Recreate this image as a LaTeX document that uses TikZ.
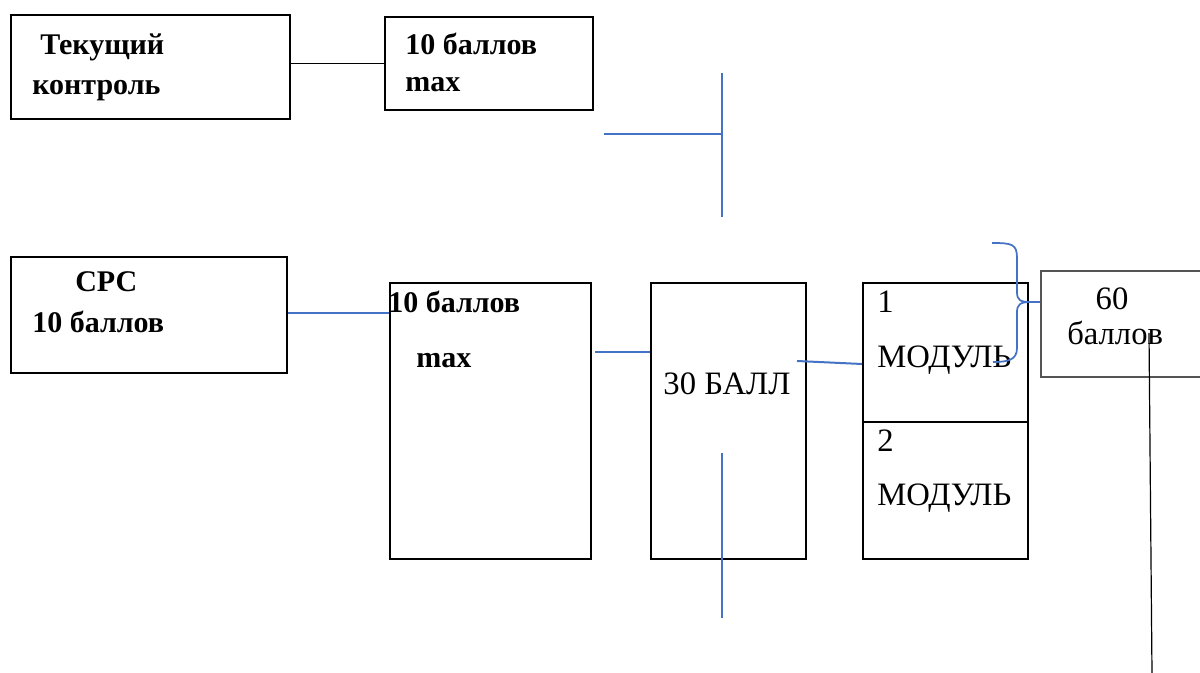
\documentclass[tikz,border=0pt]{standalone}
\usepackage{fontspec}
\setmainfont{Liberation Serif}
\usetikzlibrary{positioning}

\definecolor{lineblue}{RGB}{68,114,196}
\definecolor{boxgray}{RGB}{85,85,85}

\tikzset{
  box/.style={draw, line width=1.3pt, inner sep=0pt, anchor=north west},
  sz/.style 2 args={minimum width=#1*0.75pt, minimum height=#2*0.75pt},
  lbl/.style={anchor=base west, inner sep=0pt, font=\fontsize{24.5}{29}\selectfont},
  blbl/.style={lbl, font=\fontsize{22.5}{27}\selectfont\bfseries},
  blueline/.style={draw=lineblue, line width=1.5pt},
  blackline/.style={draw, line width=0.9pt}
}

\begin{document}
\begin{tikzpicture}[x=0.75pt, y=-0.75pt]
                \useasboundingbox (0,0) rectangle (1200,673);
                % top row
                \node[box, sz={279}{104}] (tek) at (10,14) {};
                \node[box, sz={208}{93}] (tekmax) at (384,16) {};
                \node[blbl] (tek1) at (40,55) {Текущий};
                \node[blbl] (tek2) at (32,95) {контроль};
                \node[blbl] (tekmax1) at (405,55) {10 баллов};
                \node[blbl] (tekmax2) at (405,92) {max};
                \draw[blackline] (tek.east |- tekmax.west) -- (tekmax.west);
                % blue T
                \coordinate (ttop) at (722,73);
                \coordinate (tbot) at (722,217);
                \coordinate (tleft) at (604,134);
                \draw[blueline] (ttop) -- (tbot);
                \draw[blueline] (tleft) -- (ttop |- tleft);
                % middle row
                \node[box, sz={276}{116}] (srs) at (10,256) {};
                \node[blbl] (srs1) at (75,292) {СРС};
                \node[blbl] (srs2) at (32,333) {10 баллов};
                \node[box, sz={201}{276}] (big) at (389,282) {};
                \node[blbl] (big1) at (388,313) {10 баллов};
                \node[blbl] (big2) at (416,368) {max};
                \node[box, sz={155}{276}] (ball) at (650,282) {};
                \node[lbl, anchor=base] (ball1) at (727,395) {30 БАЛЛ};
                \node[box, sz={165}{139}] (mod1) at (862,282) {};
                \node[box, sz={165}{137}] (mod2) at (862,421) {};
                \node[lbl] (mod1a) at (877,313) {1};
                \node[lbl] (mod1b) at (877,368) {МОДУЛЬ};
                \node[lbl] (mod2a) at (877,452) {2};
                \node[lbl] (mod2b) at (877,505) {МОДУЛЬ};
                \node[box, draw=boxgray, sz={175}{106}] (sum) at (1040,270) {};
                \node[lbl, anchor=base] (sum1) at (1112,310) {60};
                \node[lbl] (sum2) at (1067,345) {баллов};
                % connectors
                \draw[blueline] (srs.east |- 0,313) -- (big.west |- 0,313);
                \coordinate (bigr) at (595,352);
                \draw[blueline] (bigr) -- (ball.west |- bigr);
                \coordinate (ballr) at (797,361);
                \draw[blueline] (ballr) -- (mod1.west |- 0,364);
                \coordinate (vtop) at (722,453);
                \coordinate (vbot) at (722,618);
                \draw[blueline] (vtop) -- (vbot);
                % brace
                \coordinate (brtop) at (992,243);
                \coordinate (brbot) at (993,362);
                \draw[blueline, line width=1.3pt] (brtop) .. controls (1012,243) and (1017,244) .. (1017,258)
                  -- (1017,292) .. controls (1017,300) and (1020,302) .. (1030,302) -- (sum.west |- 0,302);
                \draw[blueline, line width=1.3pt] (1030,302) .. controls (1020,302) and (1017,305) .. (1017,312)
                  -- (1017,348) .. controls (1017,360) and (1008,362) .. (brbot);
                \coordinate (down) at (1152,673);
                \draw[blackline] (1149,333) -- (down);
\end{tikzpicture}
\end{document}
